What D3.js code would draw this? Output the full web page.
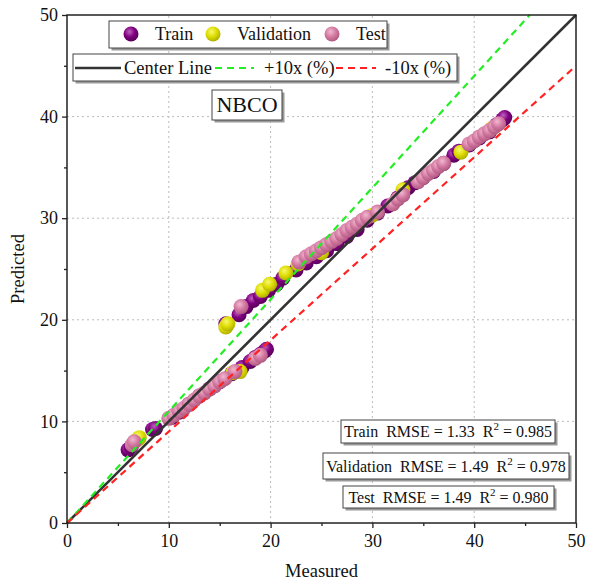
<!DOCTYPE html>
<html>
<head>
<meta charset="utf-8">
<script src="https://cdn.jsdelivr.net/npm/d3@7"></script>
<style>
  body { margin: 0; background: #fff; }
  text { font-family: "Liberation Serif", "Times New Roman", serif; fill: #111; white-space: pre; }
</style>
</head>
<body>
<div id="chart"></div>
<script>
// measured / predicted pairs
const trainPts = [
  [6.0, 7.2], [6.3, 7.5], [8.4, 9.2], [8.7, 9.3], [10.3, 10.4], [11.0, 10.9], [12.0, 11.7],
  [13.0, 12.5], [14.0, 13.2], [15.0, 13.9], [16.2, 14.7], [17.2, 15.3], [18.0, 15.9],
  [18.5, 16.3], [19.0, 16.6], [19.4, 16.9], [19.6, 17.1],
  [15.6, 19.6], [16.9, 20.5], [17.6, 21.3], [18.3, 21.9], [19.0, 22.3], [19.8, 22.9],
  [20.6, 23.5], [21.2, 24.1], [22.5, 24.9], [23.5, 25.6], [24.5, 26.2], [25.5, 26.8],
  [26.5, 27.5], [27.5, 28.2], [28.5, 28.9], [29.5, 29.8], [30.5, 30.5], [31.5, 31.2],
  [32.5, 32.0], [33.5, 33.0], [34.2, 33.5], [35.0, 34.0], [36.0, 34.6], [37.0, 35.4],
  [38.0, 36.2], [38.5, 36.6], [39.5, 37.2], [40.5, 37.9], [41.5, 38.5], [42.2, 39.2],
  [42.8, 39.7], [43.0, 39.9]
];
const validPts = [
  [6.9, 8.2], [7.1, 8.4], [15.6, 19.3], [15.8, 19.6], [16.3, 14.8], [17.0, 14.9], [19.2, 22.9],
  [19.9, 23.5], [21.5, 24.6], [22.7, 25.5], [25.0, 26.6], [30.0, 30.3], [33.0, 32.8],
  [38.7, 36.5], [41.7, 38.8]
];
const testPts = [
  [6.4, 7.7], [6.6, 8.0], [10.0, 10.3], [10.5, 10.6], [11.0, 11.0], [11.5, 11.3], [12.0, 11.7],
  [12.5, 12.1], [13.0, 12.5], [13.5, 12.8], [14.0, 13.2], [14.5, 13.5], [15.0, 13.9],
  [15.5, 14.2], [16.5, 14.9], [18.5, 16.2], [19.0, 16.5],
  [17.1, 21.3], [22.8, 25.7], [23.5, 26.2], [24.0, 26.5], [24.5, 26.8], [25.0, 27.1],
  [25.5, 27.4], [26.0, 27.7], [26.5, 28.0], [27.0, 28.4], [27.5, 28.8], [28.0, 29.1],
  [28.5, 29.4], [29.0, 29.8], [29.5, 30.1], [30.5, 30.6], [32.0, 31.4], [32.5, 31.9],
  [33.0, 32.3], [34.5, 33.6], [35.0, 34.0], [35.5, 34.4], [36.0, 34.7], [36.5, 35.1],
  [37.0, 35.4], [39.5, 37.3], [40.0, 37.6], [40.5, 38.0], [41.0, 38.3], [41.5, 38.6],
  [42.0, 39.0], [42.4, 39.3]
];
const ticks = [0, 10, 20, 30, 40, 50];
const minorTicks = [5, 15, 25, 35, 45];
const statRows = [
  { name: 'Train', rmse: '1.33', r2: '0.985' },
  { name: 'Validation', rmse: '1.49', r2: '0.978' },
  { name: 'Test', rmse: '1.49', r2: '0.980' }
];

const width = 594, height = 581;
const margin = { left: 67, right: 18, top: 15, bottom: 58 };
const svg = d3.select('#chart').append('svg').attr('width', width).attr('height', height);

const x = d3.scaleLinear().domain([0, 50]).range([margin.left, width - margin.right]);
const y = d3.scaleLinear().domain([0, 50]).range([height - margin.bottom, margin.top]);

// sphere-ish gradients for markers
const defs = svg.append('defs');
const series = [
  { key: 'train', label: 'Train', hi: '#c060c0', base: '#7e007e', edge: '#5a005a', pts: trainPts },
  { key: 'valid', label: 'Validation', hi: '#f8f870', base: '#dcdc00', edge: '#b0b000', pts: validPts },
  { key: 'test', label: 'Test', hi: '#f0b8d0', base: '#d47aa2', edge: '#b05a82', pts: testPts }
];
series.forEach(s => {
  const g = defs.append('radialGradient').attr('id', 'grad-' + s.key)
    .attr('cx', '0.4').attr('cy', '0.35').attr('r', '0.65');
  g.append('stop').attr('offset', '0%').attr('stop-color', s.hi);
  g.append('stop').attr('offset', '55%').attr('stop-color', s.base);
  g.append('stop').attr('offset', '100%').attr('stop-color', s.edge);
});

// grid
const grid = svg.append('g').attr('stroke', '#bbb').attr('stroke-width', 1).attr('stroke-dasharray', '2,3');
[10, 20, 30, 40].forEach(v => {
  grid.append('line').attr('x1', x(v)).attr('x2', x(v)).attr('y1', y(0)).attr('y2', y(50));
  grid.append('line').attr('x1', x(0)).attr('x2', x(50)).attr('y1', y(v)).attr('y2', y(v));
});

// points
series.forEach(s => {
  svg.append('g').selectAll('circle').data(s.pts).join('circle')
    .attr('cx', d => x(d[0])).attr('cy', d => y(d[1])).attr('r', 7.5)
    .attr('fill', `url(#grad-${s.key})`);
});

// reference lines
const plot = svg.append('g');
plot.append('line').attr('x1', x(0)).attr('y1', y(0)).attr('x2', x(50)).attr('y2', y(50))
  .attr('stroke', '#333').attr('stroke-width', 2.5);
plot.append('line').attr('x1', x(0)).attr('y1', y(0)).attr('x2', x(50 / 1.1)).attr('y2', y(50))
  .attr('stroke', '#22ee22').attr('stroke-width', 2.2).attr('stroke-dasharray', '7,5');
plot.append('line').attr('x1', x(0)).attr('y1', y(0)).attr('x2', x(50)).attr('y2', y(45))
  .attr('stroke', '#ff2222').attr('stroke-width', 2.2).attr('stroke-dasharray', '7,5');

// frame
svg.append('rect').attr('x', x(0)).attr('y', y(50)).attr('width', x(50) - x(0)).attr('height', y(0) - y(50))
  .attr('fill', 'none').attr('stroke', '#222').attr('stroke-width', 1.5);

// axes
svg.append('g').attr('transform', `translate(0,${y(0)})`)
  .call(d3.axisBottom(x).tickValues(ticks).tickSize(5).tickPadding(6).tickFormat(d3.format('d')));
svg.append('g').attr('transform', `translate(0,${y(0)})`)
  .call(d3.axisBottom(x).tickValues(minorTicks).tickSize(3).tickFormat(''));
svg.append('g').attr('transform', `translate(${x(0)},0)`)
  .call(d3.axisLeft(y).tickValues(ticks).tickSize(5).tickPadding(4).tickFormat(d3.format('d')));
svg.append('g').attr('transform', `translate(${x(0)},0)`)
  .call(d3.axisLeft(y).tickValues(minorTicks).tickSize(3).tickFormat(''));
svg.selectAll('.domain').remove();
svg.selectAll('.tick line').attr('stroke', '#222').attr('stroke-width', 1.3);
svg.selectAll('.tick text').style('font-family', '"Liberation Serif", serif').style('font-size', '18px').attr('fill', '#111');

svg.append('text').attr('x', (x(0) + x(50)) / 2).attr('y', 577).attr('text-anchor', 'middle')
  .style('font-size', '18.5px').text('Measured');
svg.append('text').attr('transform', `translate(24,${(y(0) + y(50)) / 2}) rotate(-90)`).attr('text-anchor', 'middle')
  .style('font-size', '18.5px').text('Predicted');

// box helper with drop shadow
function box(x0, y0, w, h) {
  svg.append('rect').attr('x', x0 + 2.5).attr('y', y0 + 2.5).attr('width', w).attr('height', h).attr('fill', '#9a9a9a');
  svg.append('rect').attr('x', x0).attr('y', y0).attr('width', w).attr('height', h)
    .attr('fill', '#fff').attr('stroke', '#444').attr('stroke-width', 1);
}

// legend 1: markers
box(109, 21, 278, 27);
const legX = [131, 213, 332];
series.forEach((s, i) => {
  svg.append('circle').attr('cx', legX[i]).attr('cy', 34).attr('r', 7.5).attr('fill', `url(#grad-${s.key})`);
  svg.append('text').attr('x', legX[i] + 24).attr('y', 40).style('font-size', '18px').text(s.label);
});

// legend 2: lines
box(73, 54, 384, 27);
svg.append('line').attr('x1', 75).attr('x2', 121).attr('y1', 68).attr('y2', 68).attr('stroke', '#333').attr('stroke-width', 2.5);
svg.append('text').attr('x', 124).attr('y', 74).style('font-size', '18.5px').text('Center Line');
svg.append('line').attr('x1', 215).attr('x2', 254).attr('y1', 68).attr('y2', 68).attr('stroke', '#22ee22').attr('stroke-width', 2.2).attr('stroke-dasharray', '7,5');
svg.append('text').attr('x', 264).attr('y', 74).style('font-size', '18.5px').text('+10x (%)');
svg.append('line').attr('x1', 336).attr('x2', 376).attr('y1', 68).attr('y2', 68).attr('stroke', '#ff2222').attr('stroke-width', 2.2).attr('stroke-dasharray', '7,5');
svg.append('text').attr('x', 385).attr('y', 74).style('font-size', '18.5px').text('-10x (%)');

// dataset label
box(212, 90, 70, 30);
svg.append('text').attr('x', 247).attr('y', 112).attr('text-anchor', 'middle').style('font-size', '22px').text('NBCO');

// stats boxes
const statBoxes = [[341, 420, 214, 23], [323, 453, 246, 26], [343, 486, 211, 22]];
statRows.forEach((r, i) => {
  const [bx, by, bw, bh] = statBoxes[i];
  box(bx, by, bw, bh);
  const t = svg.append('text').attr('x', bx + bw / 2).attr('y', by + bh / 2 + 5.5).attr('text-anchor', 'middle')
    .style('font-size', '16px');
  t.append('tspan').text(`${r.name}  RMSE = ${r.rmse}  R`);
  t.append('tspan').attr('dy', -7).style('font-size', '11px').text('2');
  t.append('tspan').attr('dy', 7).text(` = ${r.r2}`);
});
</script>
</body>
</html>
